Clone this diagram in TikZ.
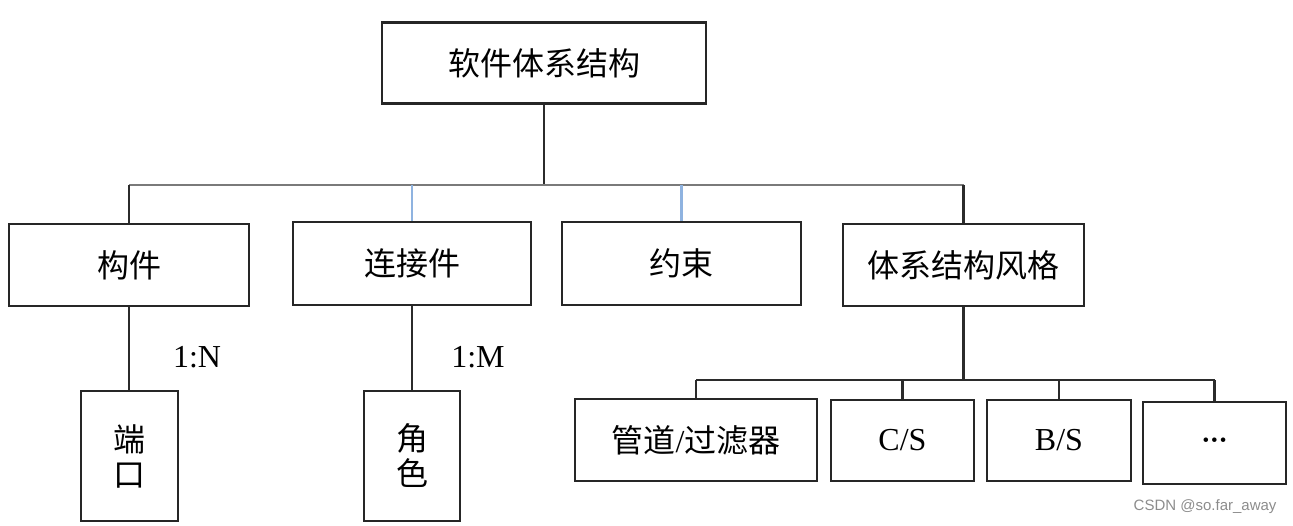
\documentclass[tikz,border=0pt]{standalone}
\usepackage{fontspec}
\setmainfont{Liberation Serif}
\setsansfont{Liberation Sans}
\newfontfamily\cjk{Noto Sans CJK SC}
\usepackage{tikz}
\definecolor{boxLine}{HTML}{262626}
\definecolor{linkLine}{HTML}{2B2B2B}
\definecolor{barLine}{HTML}{7A7A7A}
\definecolor{blueLink}{HTML}{8FB3E0}
\definecolor{markGrey}{HTML}{8C8C8C}
\tikzset{
  every box/.style={draw=boxLine, line width=2.6pt, rectangle, inner sep=0pt},
  hanzi/.style={font=\cjk\fontsize{32}{35}\selectfont},
  latin/.style={font=\fontsize{32}{35}\selectfont}
}

\begin{document}
\begin{tikzpicture}[
  x=1pt, y=1pt,
  box/.style 2 args={every box, minimum width=#1, minimum height=#2},
  link/.style={draw=linkLine, line width=2.2pt},
  bar/.style={draw=barLine, line width=2.2pt},
  blue link/.style={draw=blueLink, line width=2.2pt}
]
\useasboundingbox (0,0) rectangle (1293,-525);
% top level
\node[box={324}{81}, hanzi] (main) at (544,-63) {软件体系结构};
% second level
\node[box={240}{82}, hanzi] (component) at (129,-265) {构件};
\node[box={238}{83}, hanzi] (connector) at (412,-263.5) {连接件};
\node[box={239}{83}, hanzi] (constraint) at (681.5,-263.5) {约束};
\node[box={241}{82}, hanzi] (style) at (963.5,-265) {体系结构风格};
% third level
\node[box={97}{130}, hanzi, align=center] (port) at (129.5,-456) {端\\[0pt]口};
\node[box={96}{130}, hanzi, align=center] (role) at (412,-456) {角\\[0pt]色};
\node[box={242}{82}, hanzi] (pipe) at (696,-440) {管道{\fontspec{Liberation Serif}/}过滤器};
\node[box={143}{81}, latin] (cs) at (902.5,-440.5) {C/S};
\node[box={144}{81}, latin] (bs) at (1059,-440.5) {B/S};
\node[box={143}{82}, font=\fontsize{19}{22}\selectfont] (more) at (1214.5,-443)
  {\raisebox{2pt}{\textbullet\hspace{2pt}\textbullet\hspace{2pt}\textbullet}};
% bars
\coordinate (topBar) at (0,-185);
\coordinate (lowBar) at (0,-380);
\draw[link] (main.south) -- (main.south |- topBar);
\draw[bar] (component.north |- topBar) -- (style.north |- topBar);
\draw[link] (component.north |- topBar) -- (component.north);
\draw[blue link] (connector.north |- topBar) -- (connector.north);
\draw[blue link] (constraint.north |- topBar) -- (constraint.north);
\draw[link] (style.north |- topBar) -- (style.north);
\draw[link] (component.south) -- (component.south |- port.north);
\draw[link] (connector.south) -- (connector.south |- role.north);
\draw[link] (style.south) -- (style.south |- lowBar);
\draw[link] (pipe.north |- lowBar) -- (more.north |- lowBar);
\foreach \child in {pipe,cs,bs,more}
  \draw[link] (\child.north |- lowBar) -- (\child.north);
% ratios
\node[latin] (ratioN) at (197,-357) {1:N};
\node[latin] (ratioM) at (478,-357) {1:M};
% watermark
\node[font=\sffamily\fontsize{15}{18}\selectfont, text=markGrey, anchor=east] (mark) at (1280,-507) {CSDN @so.far\_away};
\end{tikzpicture}
\end{document}
